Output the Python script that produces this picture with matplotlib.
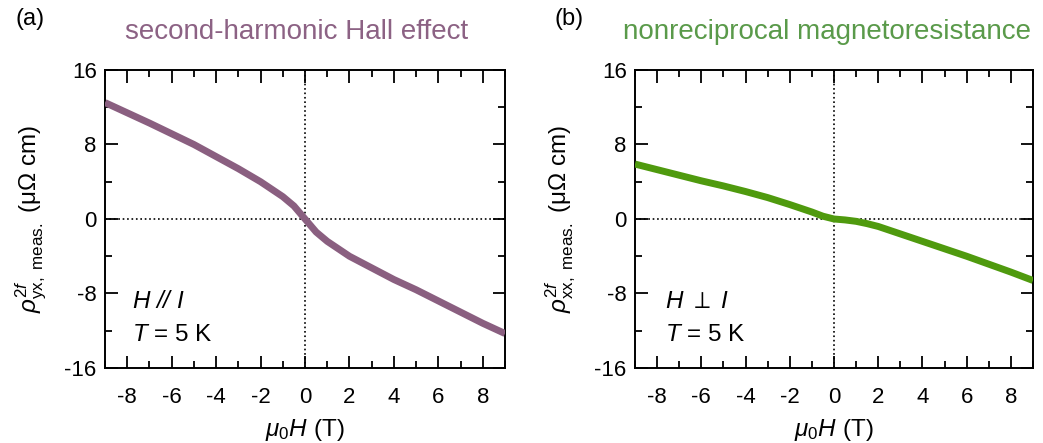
import numpy as np
import matplotlib.pyplot as plt
from matplotlib.ticker import MultipleLocator

plt.rcParams['font.family'] = ['Liberation Sans', 'DejaVu Sans']
plt.rcParams['mathtext.fontset'] = 'custom'
plt.rcParams['mathtext.rm'] = 'Liberation Sans'
plt.rcParams['mathtext.it'] = 'Liberation Sans:italic'
plt.rcParams['mathtext.bf'] = 'Liberation Sans:bold'
plt.rcParams['axes.unicode_minus'] = False

# field sweep (T)
field = [-9, -8, -7, -6, -5, -4, -3, -2, -1.5, -1, -0.5, 0,
         0.5, 1, 1.5, 2, 3, 4, 5, 6, 7, 8, 9]
# second-harmonic Hall resistivity, H // I (uOhm cm)
rho_yx = [12.5, 11.4, 10.3, 9.15, 8.0, 6.7, 5.4, 4.0, 3.2, 2.4, 1.4, 0.0,
          -1.4, -2.4, -3.2, -4.0, -5.25, -6.5, -7.6, -8.8, -10.0, -11.2, -12.3]
# nonreciprocal longitudinal resistivity, H perp I (uOhm cm)
rho_xx = [5.9, 5.3, 4.7, 4.1, 3.55, 2.95, 2.3, 1.55, 1.15, 0.75, 0.3, 0.0,
          -0.1, -0.25, -0.5, -0.8, -1.6, -2.4, -3.2, -4.0, -4.85, -5.7, -6.6]

purple = '#8a5f80'
green = '#4f9a0e'

fig = plt.figure(figsize=(10.43, 4.43), dpi=100)
ax1 = fig.add_axes([0.1007, 0.1693, 0.3835, 0.6727])
ax2 = fig.add_axes([0.6088, 0.1693, 0.3816, 0.6727])


def style(ax):
    ax.set_xlim(-9, 9)
    ax.set_ylim(-16, 16)
    ax.xaxis.set_major_locator(MultipleLocator(2))
    ax.xaxis.set_minor_locator(MultipleLocator(1))
    ax.yaxis.set_major_locator(MultipleLocator(8))
    ax.yaxis.set_minor_locator(MultipleLocator(4))
    ax.tick_params(which='both', direction='in', top=True, right=True,
                   width=1.3, labelsize=16)
    ax.tick_params(axis='x', pad=14)
    ax.tick_params(axis='y', pad=6)
    ax.tick_params(which='major', length=9)
    ax.tick_params(which='minor', length=5)
    for s in ax.spines.values():
        s.set_linewidth(1.4)
    ax.axhline(0, color='black', ls=':', lw=1.2, zorder=1)
    ax.axvline(0, color='black', ls=':', lw=1.2, zorder=1)
    ax.set_xlabel(r'$\mu_{\mathrm{0}}H$ (T)', fontsize=17.5, labelpad=6)


style(ax1)
ax1.plot(field, rho_yx, color=purple, lw=5, solid_capstyle='butt', zorder=3)
ax1.set_ylabel(r'$\rho^{\mathrm{2}f}_{\mathrm{yx,\ meas.}}$ (μΩ cm)', fontsize=17.5, labelpad=12)
ax1.text(0.067, 0.2, r'$H$ // $I$', transform=ax1.transAxes, fontsize=17.5, style='italic')
ax1.text(0.067, 0.09, r'$T$ = 5 K', transform=ax1.transAxes, fontsize=17.5)

style(ax2)
ax2.plot(field, rho_xx, color=green, lw=5, solid_capstyle='butt', zorder=3)
ax2.set_ylabel(r'$\rho^{\mathrm{2}f}_{\mathrm{xx,\ meas.}}$ (μΩ cm)', fontsize=17.5, labelpad=12)
ax2.text(0.075, 0.2, r'$H$ $\perp$ $I$', transform=ax2.transAxes, fontsize=17.5)
ax2.text(0.075, 0.09, r'$T$ = 5 K', transform=ax2.transAxes, fontsize=17.5)

fig.text(0.015, 0.957, '(a)', fontsize=17, va='center')
fig.text(0.284, 0.928, 'second-harmonic Hall effect', fontsize=20,
         color='#8c6284', ha='center', va='center')
fig.text(0.532, 0.957, '(b)', fontsize=17, va='center')
fig.text(0.793, 0.928, 'nonreciprocal magnetoresistance', fontsize=20,
         color='#5a9a4a', ha='center', va='center')

fig.savefig('out.png', dpi=100)
